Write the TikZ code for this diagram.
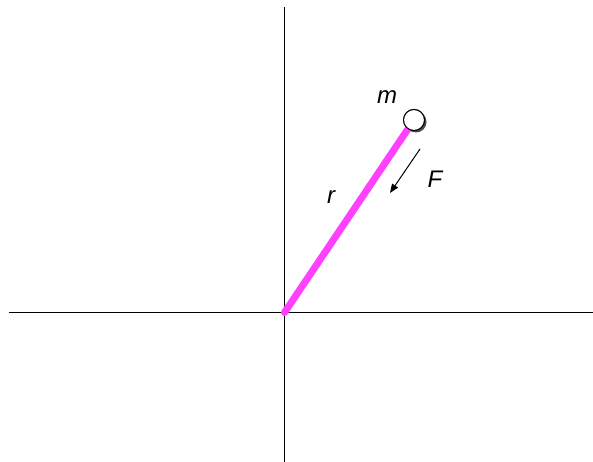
\documentclass[tikz,border=0pt]{standalone}
\usepackage{fontspec}
\setmainfont{Liberation Sans}
\usetikzlibrary{arrows.meta,positioning,shadows}
\definecolor{rodcolor}{RGB}{255,64,255}
\tikzset{
  axis/.style={black, line width=1pt},
  rod/.style={rodcolor, line width=7pt, line cap=round},
  mass/.style={circle, draw=black, fill=white, line width=1pt, minimum size=21pt, inner sep=0pt,
    drop shadow={shadow xshift=2pt, shadow yshift=-2pt, fill=black, opacity=0.45}},
  lbl/.style={font=\fontsize{24}{28}\selectfont\itshape, inner sep=0pt}
}
\begin{document}
\begin{tikzpicture}[x=1pt, y=-1pt]
    \useasboundingbox (0,0) rectangle (593,462);
    % Axes
    \coordinate (xl) at (9,312.5);
    \coordinate (xr) at (593,312.5);
    \coordinate (yt) at (284.5,7);
    \coordinate (yb) at (284.5,462);
    \draw[axis] (xl) -- (xr);
    \draw[axis] (yt) -- (yb);
    % Origin and mass
    \coordinate (o) at (284.5,312.5);
    \node[mass] (m) at (414,120) {};
    \draw[rod] (o) -- (m);
    \node[mass] at (m) {};
    % Labels
    \node[lbl] (mlabel) at (387,97) {m};
    \node[lbl] (rlabel) at (331,197) {r};
    \node[lbl] (flabel) at (435,179) {F};
    % Force arrow
    \coordinate (fs) at (420,149);
    \coordinate (fe) at (390,193);
    \draw[-{Triangle[length=9pt, width=7pt]}, line width=1pt] (fs) -- (fe);
  \end{tikzpicture}
\end{document}
